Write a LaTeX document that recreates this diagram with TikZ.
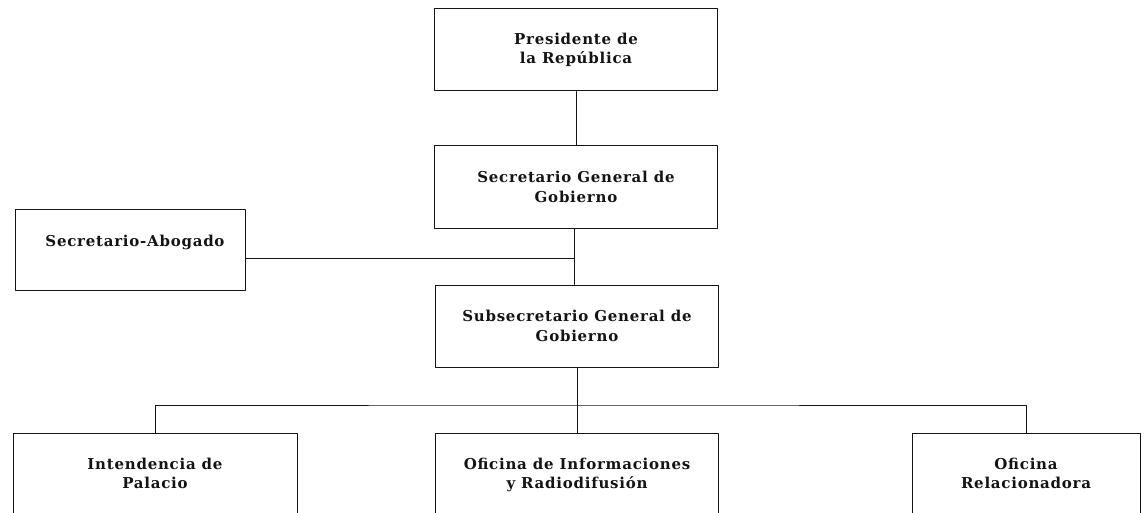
\documentclass[tikz,border=0pt]{standalone}
\usepackage{fontspec}
\usepackage{pgf,tikz}
\setmainfont[LetterSpace=5]{DejaVu Serif}
\definecolor{qqqqqq}{rgb}{0.08,0.08,0.08}
\begin{document}
\begin{tikzpicture}[line cap=round,line join=round,x=1pt,y=-1pt,
  cargo/.style={draw=qqqqqq,line width=1pt,minimum width=283pt,minimum height=82pt,align=center,inner sep=0pt,font=\bfseries\fontsize{15}{19.5}\selectfont,text=qqqqqq},
  linea/.style={draw=qqqqqq,line width=0.8pt}]
      \useasboundingbox (0,0) rectangle (1148,513);
      \clip (0,0) rectangle (1148,513);
      \node[cargo] (pres) at (576,50) {Presidente de\\la República};
      \node[cargo] (secgen) at (576,187) {Secretario General de\\Gobierno};
      \node[cargo] (subsec) at (577,326) {Subsecretario General de\\Gobierno};
      \node[cargo,minimum width=230pt,minimum height=80pt] (abog) at (130,250) {};
      \node[font=\bfseries\fontsize{15}{19.5}\selectfont,text=qqqqqq] (abogtxt) at (135,242) {Secretario-Abogado};
      \node[cargo,anchor=north,minimum width=284pt,minimum height=100pt,text depth=20pt] (intend) at (155,433) {Intendencia de\\Palacio};
      \node[cargo,anchor=north,minimum height=100pt,text depth=20pt] (ofinf) at (577,433) {Oficina de Informaciones\\y Radiodifusión};
      \node[cargo,anchor=north,minimum width=228pt,minimum height=100pt,text depth=20pt] (ofrel) at (1026,433) {Oficina\\Relacionadora};
      \coordinate (junta) at (574,258);
      \coordinate (barra) at (577,405);
      \draw[linea] (pres) -- (secgen);
      \draw[linea] (secgen.south -| junta) -- (subsec.north -| junta);
      \draw[linea] (abog.east |- junta) -- (junta);
      \draw[linea] (subsec) -- (ofinf);
      \draw[linea] (intend.north) |- (barra) -| (ofrel.north);
    \end{tikzpicture}
\end{document}
